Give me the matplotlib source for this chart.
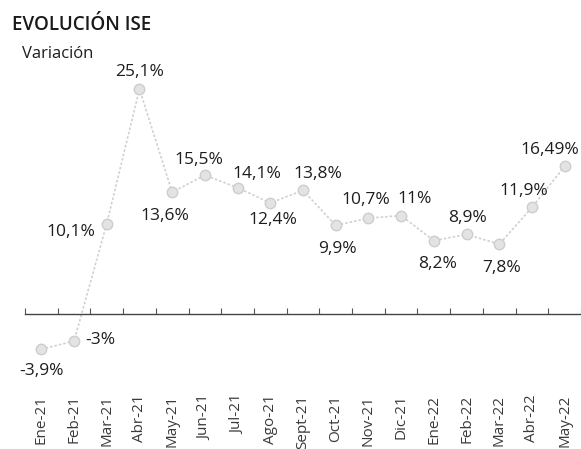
#!/usr/bin/env python3
# Evolucion ISE - monthly variation line chart
import numpy as np
import matplotlib
matplotlib.use('Agg')
import matplotlib.pyplot as plt

plt.rcParams['font.family'] = ['Open Sans', 'DejaVu Sans']

months = ['Ene-21', 'Feb-21', 'Mar-21', 'Abr-21', 'May-21', 'Jun-21', 'Jul-21',
          'Ago-21', 'Sept-21', 'Oct-21', 'Nov-21', 'Dic-21', 'Ene-22', 'Feb-22',
          'Mar-22', 'Abr-22', 'May-22']
variation = [-3.9, -3.0, 10.1, 25.1, 13.6, 15.5, 14.1, 12.4, 13.8, 9.9, 10.7,
             11.0, 8.2, 8.9, 7.8, 11.9, 16.49]
value_labels = ['-3,9%', '-3%', '10,1%', '25,1%', '13,6%', '15,5%', '14,1%',
                '12,4%', '13,8%', '9,9%', '10,7%', '11%', '8,2%', '8,9%',
                '7,8%', '11,9%', '16,49%']

# label offsets in points (dx, dy) relative to each marker
label_offsets = [(0, -16), (19, 1), (-26, -6), (0, 12), (-5, -17), (-4, 11),
                 (14, 10), (2, -12), (11, 12), (1, -17), (-2, 13), (10, 12),
                 (3, -17), (1, 12), (2, -17), (-6, 12), (-11, 12)]

fig = plt.figure(figsize=(5.81, 4.49), dpi=100)
ax = fig.add_axes([25 / 581, 81 / 449, 556 / 581, 296 / 449])

x = np.arange(len(months))
ax.plot(x, variation, color='#d0d0d0', lw=1.2, ls=(0, (1.5, 1.2)), zorder=2)
ax.plot(x, variation, ls='none', marker='o', ms=7.5, mfc='#e3e3e3',
        mec='#cdcdcd', mew=1, zorder=3)

for xi, yi, txt, (dx, dy) in zip(x, variation, value_labels, label_offsets):
    ax.annotate(txt, (xi, yi), xytext=(dx, dy), textcoords='offset points',
                ha='center', va='center', fontsize=12.5, color='#1e1e1e',
                annotation_clip=False)

ax.set_xlim(-0.5, len(months) - 0.5)
ax.set_ylim(-6, 27)

for side in ['top', 'right', 'left']:
    ax.spines[side].set_visible(False)
ax.spines['bottom'].set_position(('data', 0))
ax.spines['bottom'].set_linestyle((0, (1, 1)))
ax.spines['bottom'].set_color('#444444')
ax.spines['bottom'].set_linewidth(1)

ax.set_yticks([])
ax.set_xticks(x)
ax.set_xticklabels(months, rotation=90, fontsize=11, color='#3a3a3a')
ax.set_xticks(np.arange(len(months) + 1) - 0.5, minor=True)
ax.tick_params(axis='x', which='major', length=0, pad=58)
ax.tick_params(axis='x', which='minor', direction='in', length=4,
               width=0.8, color='#555555')

fig.text(12 / 581, 1 - 30 / 449, 'EVOLUCIÓN ISE', fontsize=13.5,
         fontweight='semibold', color='#1a1a1a', va='baseline')
fig.text(22 / 581, 1 - 58 / 449, 'Variación', fontsize=12,
         color='#1e1e1e', va='baseline')

fig.savefig('out.png', dpi=100)
